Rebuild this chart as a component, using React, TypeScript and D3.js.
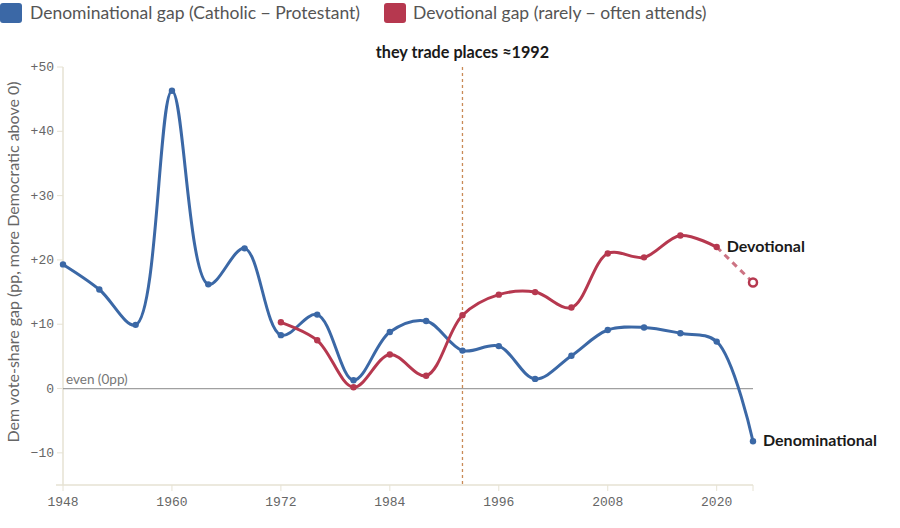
import React from "react";
import * as d3 from "d3";

// Election years and vote-share gaps (percentage points, Dem share)
const years = [1948, 1952, 1956, 1960, 1964, 1968, 1972, 1976, 1980, 1984, 1988, 1992, 1996, 2000, 2004, 2008, 2012, 2016, 2020, 2024];
const denominational = [19.3, 15.4, 9.9, 46.3, 16.2, 21.8, 8.3, 11.5, 1.3, 8.8, 10.5, 5.9, 6.6, 1.5, 5.1, 9.1, 9.5, 8.6, 7.3, -8.2];
const devotionalYears = [1972, 1976, 1980, 1984, 1988, 1992, 1996, 2000, 2004, 2008, 2012, 2016, 2020];
const devotional = [10.3, 7.5, 0.2, 5.3, 2.0, 11.4, 14.6, 15.0, 12.6, 21.0, 20.4, 23.8, 22.0];
const devotionalProjection = { year: 2024, value: 16.5 };

const xTicks = [1948, 1960, 1972, 1984, 1996, 2008, 2020];
const yTicks = [-10, 0, 10, 20, 30, 40, 50];
const crossoverYear = 1992;

const BLUE = "#3b68a6";
const RED = "#b6384f";
const SANS = "Lato, 'Noto Sans', sans-serif";
const MONO = "'Liberation Mono', 'DejaVu Sans Mono', monospace";

const W = 900;
const H = 528;
const Y_MIN = -15;

export default function App() {
  const x = d3.scaleLinear().domain([1948, 2024]).range([63, 753]);
  const y = d3.scaleLinear().domain([Y_MIN, 50]).range([485, 67]);

  const line = d3
    .line<[number, number]>()
    .x((d) => x(d[0]))
    .y((d) => y(d[1]))
    .curve(d3.curveCatmullRom.alpha(0.5));

  const denomPts: [number, number][] = years.map((yr, i) => [yr, denominational[i]]);
  const devPts: [number, number][] = devotionalYears.map((yr, i) => [yr, devotional[i]]);
  const lastDev = devPts[devPts.length - 1];

  return (
    <svg width={W} height={H} style={{ position: "absolute", left: 0, top: 0, background: "#fff" }}>
      {/* legend */}
      <g fontFamily={SANS} fontSize={17.5} fill="#555">
        <rect x={0} y={3} width={22} height={20} rx={3} fill={BLUE} />
        <text x={30} y={19}>Denominational gap (Catholic − Protestant)</text>
        <rect x={384} y={3} width={22} height={20} rx={3} fill={RED} />
        <text x={413} y={19}>Devotional gap (rarely − often attends)</text>
      </g>

      {/* y axis */}
      <line x1={x(1948)} x2={x(1948)} y1={y(50)} y2={y(Y_MIN)} stroke="#e6e2d3" strokeWidth={1.5} />
      {yTicks.map((t) => (
        <g key={t}>
          <line x1={x(1948) - 6} x2={x(1948)} y1={y(t)} y2={y(t)} stroke="#e6e2d3" />
          <text x={x(1948) - 9} y={y(t) + 4} textAnchor="end" fontFamily={MONO} fontSize={13} fill="#666">
            {t > 0 ? `+${t}` : t < 0 ? `−${-t}` : "0"}
          </text>
        </g>
      ))}
      <text
        transform={`translate(19, 262) rotate(-90)`}
        textAnchor="middle"
        fontFamily={SANS}
        fontSize={16}
        fill="#666"
      >
        Dem vote-share gap (pp, more Democratic above 0)
      </text>

      {/* x axis */}
      <line x1={x(1948) - 7} x2={x(2024)} y1={y(Y_MIN)} y2={y(Y_MIN)} stroke="#e6e2d3" strokeWidth={1.5} />
      {[...xTicks, 2024].map((t) => (
        <line key={t} x1={x(t)} x2={x(t)} y1={y(Y_MIN)} y2={y(Y_MIN) + 6} stroke="#e6e2d3" />
      ))}
      {xTicks.map((t) => (
        <text key={t} x={x(t)} y={y(Y_MIN) + 21} textAnchor="middle" fontFamily={MONO} fontSize={13} fill="#666">
          {t}
        </text>
      ))}

      {/* zero line */}
      <line x1={x(1948)} x2={x(2024)} y1={y(0)} y2={y(0)} stroke="#a0a0a0" strokeWidth={1.2} />
      <text x={x(1948) + 3} y={y(0) - 5} fontFamily={SANS} fontSize={13.5} fill="#777">
        even (0pp)
      </text>

      {/* crossover marker */}
      <line
        x1={x(crossoverYear)}
        x2={x(crossoverYear)}
        y1={y(50)}
        y2={y(Y_MIN)}
        stroke="#c98a57"
        strokeWidth={1.3}
        strokeDasharray="3,3"
      />
      <text x={x(crossoverYear)} y={58} textAnchor="middle" fontFamily={SANS} fontWeight={700} fontSize={16.2} fill="#1a1a1a">
        they trade places ≈1992
      </text>

      {/* series */}
      <path d={line(denomPts) ?? ""} fill="none" stroke={BLUE} strokeWidth={3} strokeLinecap="round" />
      <path d={line(devPts) ?? ""} fill="none" stroke={RED} strokeWidth={3} strokeLinecap="round" />
      <line
        x1={x(lastDev[0])}
        y1={y(lastDev[1])}
        x2={x(devotionalProjection.year)}
        y2={y(devotionalProjection.value)}
        stroke={RED}
        strokeOpacity={0.7}
        strokeWidth={3}
        strokeDasharray="6,5"
      />
      {denomPts.map((d) => (
        <circle key={`b${d[0]}`} cx={x(d[0])} cy={y(d[1])} r={3.2} fill={BLUE} />
      ))}
      {devPts.map((d) => (
        <circle key={`r${d[0]}`} cx={x(d[0])} cy={y(d[1])} r={3.2} fill={RED} />
      ))}
      <circle
        cx={x(devotionalProjection.year)}
        cy={y(devotionalProjection.value)}
        r={4}
        fill="#fff"
        stroke={RED}
        strokeWidth={2.5}
      />

      {/* end labels */}
      <text x={x(lastDev[0]) + 10} y={y(lastDev[1]) + 5} fontFamily={SANS} fontWeight={700} fontSize={16} fill="#1a1a1a">
        Devotional
      </text>
      <text
        x={x(2024) + 10}
        y={y(denominational[denominational.length - 1]) + 5}
        fontFamily={SANS}
        fontWeight={700}
        fontSize={16}
        fill="#1a1a1a"
      >
        Denominational
      </text>
    </svg>
  );
}
